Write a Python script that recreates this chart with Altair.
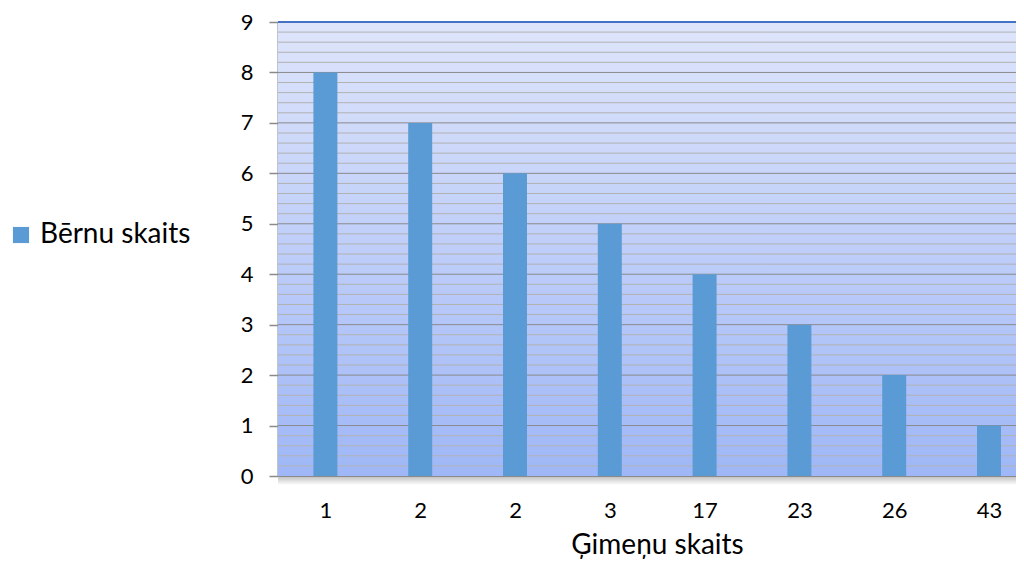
import altair as alt
import pandas as pd

categories = ["1", "2", "2", "3", "17", "23", "26", "43"]
values = [8, 7, 6, 5, 4, 3, 2, 1]
series_name = "Bērnu skaits"
x_title = "Ģimeņu skaits"
y_ticks = list(range(0, 10))
minor_ticks = [round(i * 0.2, 1) for i in range(46) if i % 5 != 0]

df = pd.DataFrame({"idx": list(range(len(categories))), "value": values, "series": series_name})
grid_major = pd.DataFrame({"y": y_ticks[1:-1]})
grid_top = pd.DataFrame({"y": [y_ticks[-1]]})
grid_minor = pd.DataFrame({"y": minor_ticks})
one = pd.DataFrame({"a": [0]})

W, H = 738, 454
STEP = 94.8  # px per category (plot area runs past the window edge)
FONT = "Lato"
label_expr = "[" + ",".join(f"'{c}'" for c in categories) + "][datum.value]"

yscale = alt.Scale(domain=[0, 9], nice=False, zero=True, padding=0)
xscale = alt.Scale(domain=[-0.5, -0.5 + W / STEP], nice=False, zero=False, padding=0)

y_axis = alt.Axis(
    values=y_ticks, grid=False, title=None, tickColor="#8a8a8a", tickSize=9, tickWidth=1.5,
    labelFont=FONT, labelFontSize=22, labelColor="#000000", labelPadding=16,
    domainColor="#7f8ca3", domainWidth=2,
)

bg_grad = alt.LinearGradient(
    gradient="linear",
    stops=[alt.GradientStop(offset=0, color="#DEE5FB"), alt.GradientStop(offset=1, color="#9FB7F7")],
    x1=0, x2=0, y1=0, y2=1,
)
shadow_grad = alt.LinearGradient(
    gradient="linear",
    stops=[alt.GradientStop(offset=0, color="#c4c4c4"), alt.GradientStop(offset=1, color="#ffffff")],
    x1=0, x2=0, y1=0, y2=1,
)

bg = alt.Chart(one).mark_rect(color=bg_grad).encode(
    x=alt.value(0), x2=alt.value(W), y=alt.value(0), y2=alt.value(H)
)
shadow = alt.Chart(one).mark_rect(color=shadow_grad).encode(
    x=alt.value(0), x2=alt.value(W), y=alt.value(H + 1), y2=alt.value(H + 9)
)
minor = alt.Chart(grid_minor).mark_rule(color="#b2b2b2", strokeWidth=1).encode(
    y=alt.Y("y:Q", scale=yscale, axis=y_axis)
)
major = alt.Chart(grid_major).mark_rule(color="#8a8a8a", strokeWidth=1).encode(
    y=alt.Y("y:Q", scale=yscale, axis=y_axis)
)
top = alt.Chart(grid_top).mark_rule(color="#4472C4", strokeWidth=2).encode(
    y=alt.Y("y:Q", scale=yscale, axis=y_axis)
)

bars = alt.Chart(df).mark_bar(color="#5B9BD5", size=24).encode(
    x=alt.X(
        "idx:Q",
        scale=xscale,
        axis=alt.Axis(
            title=x_title, values=list(range(len(categories))), labelExpr=label_expr,
            labelAngle=0, ticks=False, grid=False, labelFlush=False, labelOverlap=False,
            labelFont=FONT, labelFontSize=22, labelColor="#000000", labelPadding=24,
            titleFont=FONT, titleFontSize=28, titleFontWeight="normal", titleColor="#000000",
            titlePadding=10, titleX=379, titleAlign="center",
            domainColor="#8a8a8a", domainWidth=2,
        ),
    ),
    y=alt.Y("value:Q", scale=yscale, axis=y_axis),
    color=alt.Color(
        "series:N",
        scale=alt.Scale(range=["#5B9BD5"]),
        legend=alt.Legend(
            title=None, orient="none", legendX=-271, legendY=199, symbolType="square",
            symbolSize=260, symbolStrokeWidth=0, symbolOpacity=1, labelFont=FONT, labelFontSize=28,
            labelColor="#000000", labelOffset=5,
        ),
    ),
)

chart = alt.layer(bg, shadow, minor, major, top, bars).properties(
    width=W, height=H,
    autosize=alt.AutoSizeParams(type="none"),
    padding={"left": 270, "top": 14, "right": 0, "bottom": 84},
).configure_view(stroke=None)

chart.save("out.html", embed_options={"renderer": "svg", "actions": False})
